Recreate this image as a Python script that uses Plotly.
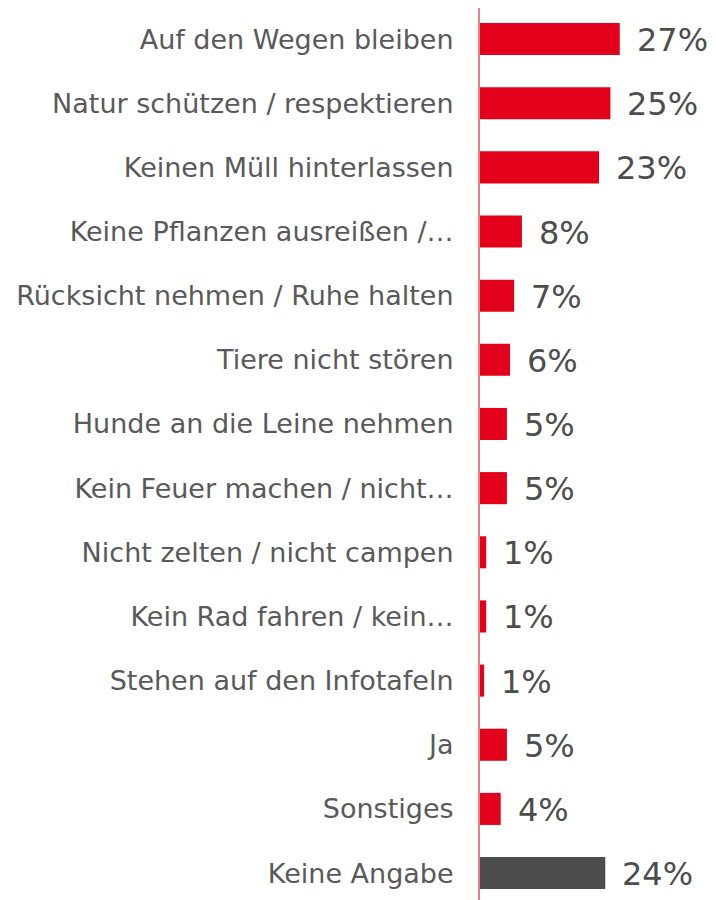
import plotly.graph_objects as go

categories = [
    "Auf den Wegen bleiben",
    "Natur schützen / respektieren",
    "Keinen Müll hinterlassen",
    "Keine Pflanzen ausreißen /…",
    "Rücksicht nehmen / Ruhe halten",
    "Tiere nicht stören",
    "Hunde an die Leine nehmen",
    "Kein Feuer machen / nicht…",
    "Nicht zelten / nicht campen",
    "Kein Rad fahren / kein…",
    "Stehen auf den Infotafeln",
    "Ja",
    "Sonstiges",
    "Keine Angabe",
]
values = [27.0, 25.2, 23.0, 8.1, 6.6, 5.8, 5.2, 5.2, 1.2, 1.2, 0.8, 5.2, 4.0, 24.2]
value_labels = ["27%", "25%", "23%", "8%", "7%", "6%", "5%", "5%", "1%", "1%", "1%", "5%", "4%", "24%"]
colors = ["#E2001A"] * 13 + ["#4D4D4D"]

fig = go.Figure(
    go.Bar(
        x=values,
        y=categories,
        orientation="h",
        marker=dict(color=colors, line=dict(width=0)),
        width=0.5,
        hoverinfo="skip",
    )
)

for cat, v, lab in zip(categories, values, value_labels):
    fig.add_annotation(
        x=v, y=cat, text=lab, showarrow=False,
        xanchor="left", yanchor="middle", xshift=15, yshift=-1,
        font=dict(family="DejaVu Sans", size=32, color="#4D4D4D"),
    )

fig.update_layout(
    width=708, height=892,
    margin=dict(l=472, r=0, t=0, b=0),
    paper_bgcolor="white", plot_bgcolor="white",
    showlegend=False,
    font=dict(family="DejaVu Sans"),
)
fig.update_xaxes(range=[0, 45.6], visible=False, showgrid=False, zeroline=False, fixedrange=True)
fig.update_yaxes(
    type="category",
    range=[13.42, -0.484],
    showgrid=False, zeroline=False,
    showline=True, linecolor="#E6808A", linewidth=2,
    ticks="", ticklabelstandoff=19,
    tickfont=dict(family="DejaVu Sans", size=27, color="#595959"),
)

fig.write_html("out.html")
